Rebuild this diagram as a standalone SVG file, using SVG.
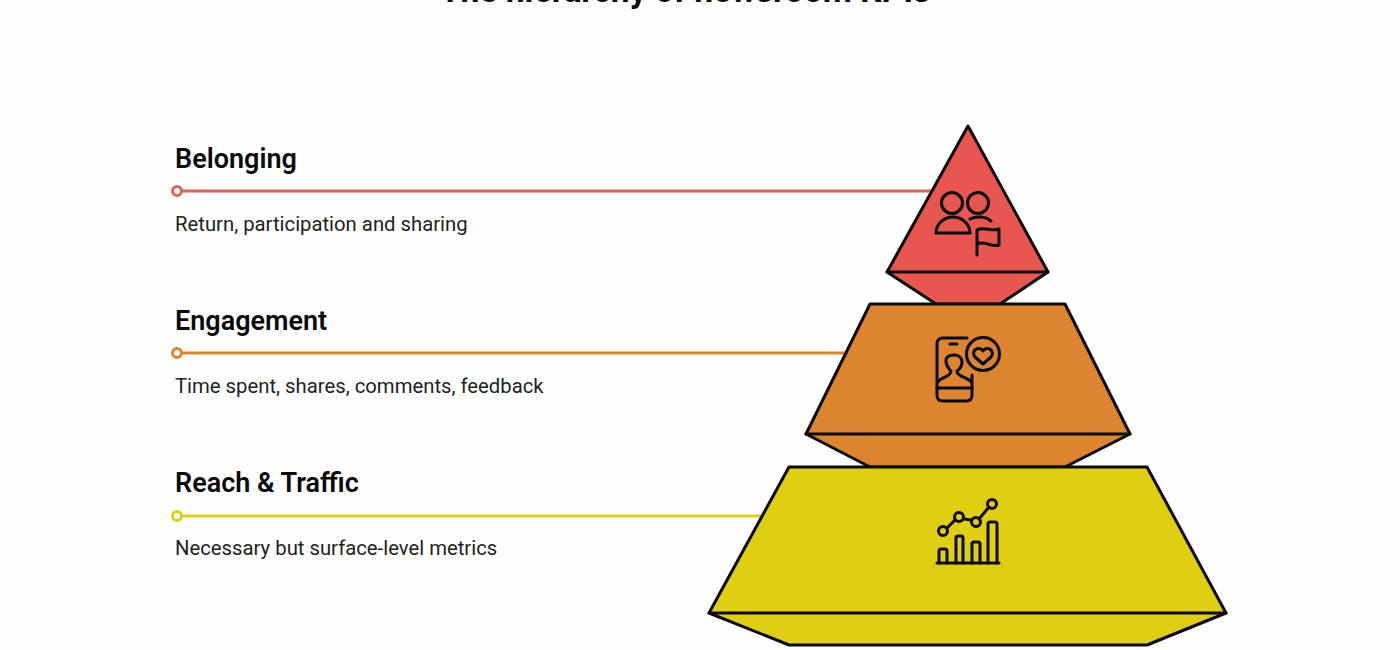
<svg xmlns="http://www.w3.org/2000/svg" width="1400" height="650" viewBox="0 0 1400 650">
<style>
.h{font:600 27px Roboto,"Liberation Sans",sans-serif;fill:#0a0a0a}
.d{font:400 20.3px Roboto,"Liberation Sans",sans-serif;fill:#222}
.t{font:700 33.6px Roboto,"Liberation Sans",sans-serif;fill:#0a0a0a}
.s{stroke:#0a0a0a;stroke-width:3;stroke-linejoin:round;stroke-linecap:round}
.i{fill:none;stroke:#0a0a0a;stroke-width:3;stroke-linejoin:round;stroke-linecap:round}
.c{fill:#fff;stroke-width:3}
.l{fill:none;stroke-width:3}
</style>
<rect width="1400" height="650" fill="#fefefe"/>
<text class="t" x="685" y="2" text-anchor="middle">The hierarchy of newsroom KPIs</text>
<g id="connectors">
<path class="l" stroke="#d9655f" d="M181 191H933"/>
<circle class="c" stroke="#d9655f" cx="177" cy="191" r="4.5"/>
<path class="l" stroke="#dd8432" d="M181 353H847"/>
<circle class="c" stroke="#dd8432" cx="177" cy="353" r="4.5"/>
<path class="l" stroke="#ded01a" d="M181 516H763"/>
<circle class="c" stroke="#ded01a" cx="177" cy="516" r="4.5"/>
</g>
<g id="belonging">
<polygon class="s" fill="#e85650" points="968,126 1048,272 1000,304 936,304 887,272"/>
<path class="s" d="M887 272H1048"/>
<g class="i">
<circle cx="952" cy="203" r="10.5"/><circle cx="978" cy="203" r="10.5"/>
<path d="M936 233H970C970 224 962 217 953 217C944 217 936 224 936 233Z"/>
<path d="M970 219C976 216 985 216 991 221"/>
<path d="M977 255V230C984 226 992 232 999 229V245C992 248 984 240 977 244"/>
</g>
<text class="h" x="175" y="167.500">Belonging</text>
<text class="d" x="175" y="230.500">Return, participation and sharing</text>
</g>
<g id="engagement">
<polygon class="s" fill="#dd8430" points="870,304 1065,304 1130,434 1065,467 870,467 806,434"/>
<path class="s" d="M806 434H1130"/>
<g class="i">
<path d="M967 338H943Q937 338 937 344V395Q937 401 943 401H966Q972 401 972 395V375"/>
<path d="M950 344H957"/>
<path d="M937 388H972"/>
<path d="M938 382C941 377 951 377 951 371C947 367 946 363 946 361C946 357 949 355 954 355C959 355 962 358 962 362C962 365 960 369 957 371C957 377 968 377 971 382"/>
<circle cx="983" cy="354" r="16.500"/>
<path d="M983 364L975 357C970 351 979 345 983 351C987 345 996 351 991 357Z"/>
</g>
<text class="h" x="175" y="329.500">Engagement</text>
<text class="d" x="175" y="392.500">Time spent, shares, comments, feedback</text>
</g>
<g id="reach">
<polygon class="s" fill="#dfcf10" points="789,467 1147,467 1226,613 1147,645 789,645 709,613"/>
<path class="s" d="M709 613H1226"/>
<g class="i">
<path d="M937 563H999"/>
<path d="M939 563V551Q939 549 941 549H945Q947 549 947 551V563M956 563V538Q956 536 958 536H961Q963 536 963 538V563M972 563V544Q972 542 974 542H978Q980 542 980 544V563M988 563V524Q988 522 990 522H995Q997 522 997 524V563"/>
<circle cx="943" cy="531" r="4.500"/><circle cx="959" cy="517" r="4.500"/><circle cx="976" cy="522" r="4.500"/><circle cx="992" cy="504" r="4.500"/>
<path d="M947 528L955 520M964 519L971 520M979 519L989 507"/>
</g>
<text class="h" x="175" y="491.500">Reach &amp; Traffic</text>
<text class="d" x="175" y="554.500">Necessary but surface-level metrics</text>
</g>
</svg>
